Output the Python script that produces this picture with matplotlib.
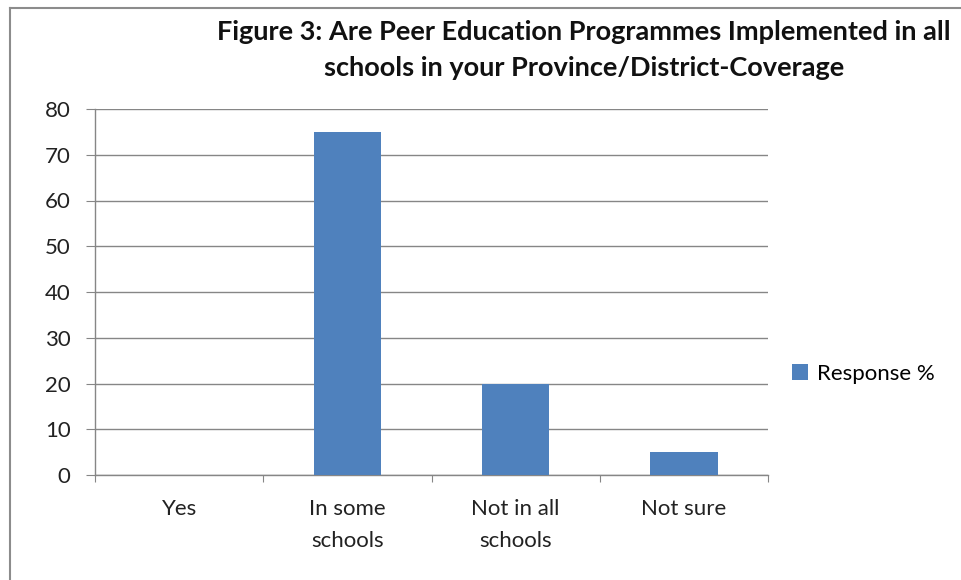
import numpy as np
import matplotlib
matplotlib.use("Agg")
import matplotlib.pyplot as plt
from matplotlib.lines import Line2D

# data
categories = ["Yes", "In some\nschools", "Not in all\nschools", "Not sure"]
response_pct = [0, 75, 20, 5]
yticks = [0, 10, 20, 30, 40, 50, 60, 70, 80]

bar_color = "#4F81BD"
grid_color = "#868686"
text_color = "#222222"

plt.rcParams["font.family"] = ["Lato", "DejaVu Sans"]

fig = plt.figure(figsize=(9.61, 5.80), dpi=100)
ax = fig.add_axes([95 / 961, 1 - 475 / 580, (768 - 95) / 961, (475 - 109) / 580])

x = np.arange(len(categories))
ax.bar(x, response_pct, width=0.4, color=bar_color, label="Response %", zorder=3)

ax.set_xlim(-0.5, len(categories) - 0.5)
ax.set_ylim(0, 80)
ax.set_yticks(yticks)
ax.set_yticklabels([str(v) for v in yticks], fontsize=16, color=text_color)
ax.yaxis.grid(True, color=grid_color, linewidth=1, zorder=0)

# tick marks on category boundaries, labels in the middle
ax.set_xticks(np.arange(-0.5, len(categories)), minor=False)
ax.set_xticklabels([])
ax.set_xticks(x, minor=True)
ax.set_xticklabels(categories, minor=True, fontsize=16, color=text_color, linespacing=1.75)
ax.tick_params(axis="x", which="major", length=5, color=grid_color, direction="out")
ax.tick_params(axis="x", which="minor", length=0, pad=17)
ax.tick_params(axis="y", length=6.5, color=grid_color, pad=11)

for side in ["top", "right"]:
    ax.spines[side].set_visible(False)
for side in ["left", "bottom"]:
    ax.spines[side].set_color(grid_color)
    ax.spines[side].set_linewidth(1)

fig.text(584 / 961, 1 - 50 / 580,
         "Figure 3: Are Peer Education Programmes Implemented in all\nschools in your Province/District-Coverage",
         ha="center", va="center", fontsize=19.5, fontweight="bold", color="#111111",
         linespacing=1.65)

ax.legend(loc="center left", bbox_to_anchor=(781 / 961, 1 - 374 / 580),
          bbox_transform=fig.transFigure, frameon=False, fontsize=16,
          handlelength=0.7, handleheight=0.7, handletextpad=0.4, borderpad=0)

# outer chart border (left and top edges only)
fig.add_artist(Line2D([10 / 961, 10 / 961], [0, 1 - 8 / 580], color="#8c8c8c", linewidth=1.5,
                      transform=fig.transFigure))
fig.add_artist(Line2D([10 / 961, 1], [1 - 8 / 580, 1 - 8 / 580], color="#8c8c8c", linewidth=1.5,
                      transform=fig.transFigure))

fig.savefig("out.png", dpi=100)
